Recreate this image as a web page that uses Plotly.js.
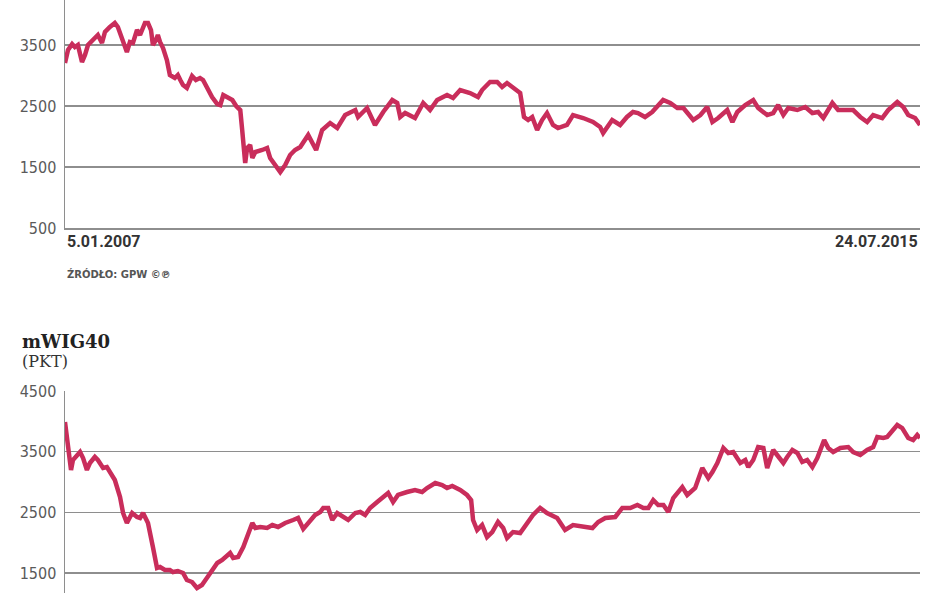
<!DOCTYPE html>
<html>
<head>
<meta charset="utf-8">
<script src="https://cdn.plot.ly/plotly-3.0.1.min.js"></script>
<style>
  html, body { margin: 0; padding: 0; background: #ffffff; }
  #chart { width: 948px; height: 593px; }
</style>
</head>
<body>
<div id="chart"></div>
<script>
// ---- Data ----
const topDates = ["2007-01-05","2007-01-16","2007-01-31","2007-02-10","2007-02-21","2007-03-08","2007-03-19","2007-03-30","2007-04-24","2007-05-05","2007-05-20","2007-05-31","2007-06-18","2007-07-06","2007-07-17","2007-08-01","2007-08-19","2007-08-30","2007-09-10","2007-09-25","2007-10-06","2007-10-24","2007-11-04","2007-11-15","2007-11-22","2007-12-03","2007-12-10","2007-12-18","2007-12-29","2008-01-12","2008-01-23","2008-02-10","2008-02-21","2008-03-01","2008-03-11","2008-03-25","2008-04-13","2008-04-27","2008-05-12","2008-05-23","2008-06-06","2008-06-25","2008-07-14","2008-07-25","2008-08-05","2008-08-23","2008-09-07","2008-09-21","2008-10-06","2008-10-13","2008-10-24","2008-10-31","2008-11-11","2008-11-19","2008-11-30","2008-12-25","2009-01-12","2009-01-23","2009-02-10","2009-03-01","2009-03-19","2009-04-06","2009-04-24","2009-05-13","2009-06-11","2009-07-10","2009-08-01","2009-08-30","2009-09-25","2009-10-24","2009-11-30","2009-12-10","2010-01-12","2010-02-10","2010-03-12","2010-04-14","2010-05-02","2010-05-13","2010-05-31","2010-07-06","2010-08-05","2010-08-30","2010-09-25","2010-10-31","2010-11-22","2010-12-18","2011-01-23","2011-02-21","2011-03-08","2011-04-06","2011-05-02","2011-05-20","2011-06-07","2011-06-29","2011-07-25","2011-08-08","2011-08-23","2011-09-07","2011-09-25","2011-10-13","2011-10-31","2011-11-22","2011-12-10","2012-01-12","2012-02-03","2012-03-11","2012-04-16","2012-05-12","2012-05-23","2012-06-25","2012-07-24","2012-08-18","2012-09-09","2012-09-27","2012-10-23","2012-11-18","2012-12-06","2012-12-28","2013-01-23","2013-02-18","2013-03-12","2013-03-26","2013-04-17","2013-05-13","2013-06-07","2013-06-26","2013-07-17","2013-08-19","2013-09-07","2013-09-25","2013-10-24","2013-11-22","2013-12-10","2014-01-12","2014-02-03","2014-02-21","2014-03-12","2014-03-30","2014-05-02","2014-05-31","2014-06-26","2014-07-17","2014-08-05","2014-09-07","2014-09-28","2014-10-31","2014-11-22","2014-12-18","2015-01-12","2015-02-03","2015-03-08","2015-03-30","2015-05-02","2015-05-24","2015-06-11","2015-07-06","2015-07-24"];
const topValues = [3205,3418,3516,3467,3500,3221,3336,3500,3615,3664,3533,3713,3795,3861,3795,3615,3385,3549,3533,3746,3664,3861,3861,3746,3500,3582,3664,3549,3451,3254,3008,2959,3008,2926,2844,2795,2992,2926,2959,2926,2795,2647,2533,2516,2680,2631,2598,2500,2434,2107,1566,1811,1861,1648,1746,1779,1811,1648,1533,1418,1533,1697,1779,1828,2025,1779,2107,2221,2139,2352,2434,2320,2467,2189,2402,2598,2549,2320,2385,2303,2549,2434,2598,2680,2631,2762,2713,2648,2762,2893,2893,2811,2877,2811,2713,2320,2270,2320,2107,2270,2385,2189,2139,2189,2352,2303,2238,2156,2057,2270,2189,2320,2402,2385,2320,2402,2484,2598,2549,2467,2467,2385,2270,2352,2484,2238,2303,2434,2238,2402,2516,2598,2467,2352,2385,2516,2352,2467,2434,2484,2385,2402,2303,2549,2434,2434,2434,2320,2238,2352,2303,2434,2566,2484,2352,2303,2189];

const mwigDates = ["2007-01-05","2007-01-16","2007-01-27","2007-02-03","2007-02-18","2007-03-01","2007-03-12","2007-03-26","2007-04-06","2007-04-24","2007-05-05","2007-05-24","2007-06-07","2007-06-26","2007-07-06","2007-07-25","2007-08-05","2007-08-19","2007-09-07","2007-09-25","2007-10-06","2007-10-17","2007-11-04","2007-11-22","2007-12-07","2007-12-18","2008-01-05","2008-01-23","2008-02-03","2008-02-21","2008-03-11","2008-03-25","2008-04-13","2008-05-01","2008-05-19","2008-06-06","2008-06-25","2008-07-14","2008-08-01","2008-08-19","2008-08-30","2008-09-10","2008-09-28","2008-10-17","2008-11-04","2008-11-19","2008-11-30","2008-12-18","2009-01-12","2009-01-31","2009-02-21","2009-03-19","2009-04-17","2009-05-05","2009-05-24","2009-06-18","2009-07-06","2009-07-25","2009-08-05","2009-08-23","2009-09-07","2009-09-25","2009-10-17","2009-11-04","2009-11-30","2009-12-18","2010-01-05","2010-01-23","2010-02-18","2010-03-12","2010-03-30","2010-04-17","2010-05-05","2010-06-07","2010-07-06","2010-08-01","2010-08-19","2010-09-18","2010-10-13","2010-10-31","2010-11-19","2010-12-18","2011-01-12","2011-01-27","2011-02-03","2011-02-18","2011-03-08","2011-03-26","2011-04-14","2011-05-05","2011-05-24","2011-06-07","2011-06-29","2011-07-25","2011-08-19","2011-09-10","2011-10-06","2011-10-31","2011-12-07","2012-01-05","2012-02-03","2012-03-08","2012-04-14","2012-05-05","2012-05-31","2012-07-06","2012-08-01","2012-08-30","2012-09-25","2012-10-17","2012-11-04","2012-11-22","2012-12-10","2012-12-29","2013-01-16","2013-02-03","2013-03-08","2013-03-26","2013-04-24","2013-05-20","2013-06-11","2013-06-26","2013-07-14","2013-08-05","2013-08-23","2013-09-10","2013-10-06","2013-10-24","2013-11-04","2013-11-22","2013-12-10","2013-12-29","2014-01-12","2014-02-03","2014-02-21","2014-03-12","2014-03-26","2014-04-14","2014-05-02","2014-05-20","2014-06-07","2014-06-26","2014-07-14","2014-08-08","2014-08-23","2014-09-10","2014-10-06","2014-11-04","2014-11-22","2014-12-18","2015-01-12","2015-02-03","2015-02-18","2015-03-12","2015-03-26","2015-05-02","2015-05-20","2015-06-11","2015-06-29","2015-07-14","2015-07-24"];
const mwigValues = [3989,3577,3199,3363,3446,3495,3396,3199,3314,3413,3363,3232,3248,3116,3034,2754,2490,2325,2490,2424,2408,2490,2325,1930,1584,1601,1551,1551,1518,1535,1502,1386,1353,1255,1304,1419,1551,1666,1716,1798,1831,1749,1765,1930,2161,2325,2243,2260,2243,2292,2260,2325,2375,2408,2227,2358,2457,2507,2573,2573,2375,2490,2424,2375,2490,2507,2457,2573,2671,2754,2820,2671,2787,2836,2869,2836,2902,2984,2951,2902,2935,2869,2787,2704,2375,2210,2292,2095,2177,2342,2243,2078,2177,2161,2325,2457,2573,2490,2408,2210,2292,2260,2243,2342,2408,2424,2573,2573,2622,2573,2573,2704,2622,2622,2507,2737,2918,2787,2902,3232,3067,3166,3314,3561,3479,3495,3314,3363,3248,3363,3577,3561,3232,3528,3413,3314,3413,3528,3479,3330,3363,3248,3396,3693,3561,3495,3561,3577,3495,3446,3528,3577,3742,3726,3742,3940,3890,3726,3693,3775,3726];

const topTicks = [500, 1500, 2500, 3500];
const bottomTicks = [1500, 2500, 3500, 4500];
const startLabel = "5.01.2007";
const endLabel = "24.07.2015";
const sourceLabel = "ŹRÓDŁO: GPW ©℗";
const bottomTitle = "mWIG40";
const bottomUnit = "(PKT)";

// ---- Styling ----
const lineColor = "#c92d5b";
const gridColor = "#8e8e8e";
const tickFont = { family: "Liberation Sans Narrow, DejaVu Sans Condensed, Arial Narrow, sans-serif", size: 16, color: "#5a5a5a" };
const dateFont = { family: "Roboto, sans-serif", size: 16, color: "#333333", weight: "bold" };

const H = 593;
const xRange = ["2007-01-05", "2015-07-24"];

const traces = [
  { x: topDates, y: topValues, xaxis: "x", yaxis: "y", type: "scatter", mode: "lines",
    line: { color: lineColor, width: 4.5 }, hoverinfo: "skip" },
  { x: mwigDates, y: mwigValues, xaxis: "x2", yaxis: "y2", type: "scatter", mode: "lines",
    line: { color: lineColor, width: 4.5 }, hoverinfo: "skip" }
];

const yCommon = {
  showgrid: true, gridcolor: gridColor, gridwidth: 1.5,
  showline: true, linecolor: gridColor, linewidth: 1.5,
  zeroline: false, ticks: "", tickfont: tickFont, ticklabelstandoff: 4,
  tickmode: "array", fixedrange: true
};

const layout = {
  width: 948, height: 593,
  margin: { l: 65, r: 28, t: 0, b: 0 },
  paper_bgcolor: "#ffffff", plot_bgcolor: "#ffffff",
  showlegend: false,
  xaxis: { domain: [0, 1], anchor: "y", type: "date", range: xRange,
           showgrid: false, zeroline: false, showticklabels: false, ticks: "",
           showline: true, linecolor: gridColor, linewidth: 1.5 },
  yaxis: Object.assign({}, yCommon, { domain: [1 - 228 / H, 1], anchor: "x",
           range: [500, 500 + 228 / 61 * 1000], tickvals: topTicks, ticktext: topTicks.map(String) }),
  xaxis2: { domain: [0, 1], anchor: "y2", type: "date", range: xRange,
           showgrid: false, zeroline: false, showticklabels: false, ticks: "", showline: false },
  yaxis2: Object.assign({}, yCommon, { domain: [0, 202 / H], anchor: "x2",
           range: [4500 - 202 / 60.7 * 1000, 4500], tickvals: bottomTicks, ticktext: bottomTicks.map(String) }),
  annotations: [
    { text: startLabel, xref: "paper", yref: "paper", x: 0, y: 1 - 230 / H,
      xanchor: "left", yanchor: "top", showarrow: false, font: dateFont },
    { text: endLabel, xref: "paper", yref: "paper", x: 1, y: 1 - 230 / H,
      xanchor: "right", yanchor: "top", showarrow: false, font: dateFont },
    { text: sourceLabel, xref: "paper", yref: "paper", x: 0, y: 1 - 274 / H,
      xanchor: "left", yanchor: "middle", showarrow: false,
      font: { family: "DejaVu Sans, sans-serif", size: 10, color: "#555555", weight: "bold" } },
    { text: bottomTitle, xref: "paper", yref: "paper", x: (20 - 65) / 855, y: 1 - 341 / H,
      xanchor: "left", yanchor: "middle", showarrow: false,
      font: { family: "DejaVu Serif, serif", size: 18, color: "#222222", weight: "bold" } },
    { text: bottomUnit, xref: "paper", yref: "paper", x: (20 - 65) / 855, y: 1 - 361 / H,
      xanchor: "left", yanchor: "middle", showarrow: false,
      font: { family: "DejaVu Serif, serif", size: 16, color: "#333333" } }
  ]
};

Plotly.newPlot("chart", traces, layout, { displayModeBar: false, staticPlot: true });
</script>
</body>
</html>
